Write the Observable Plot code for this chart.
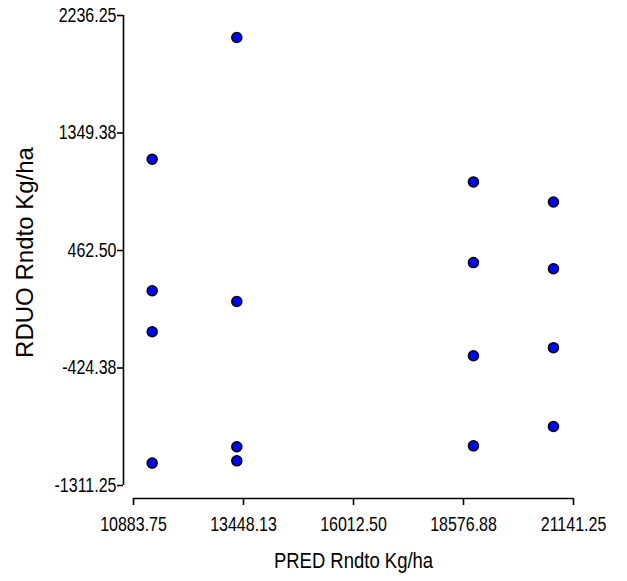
<!DOCTYPE html>
<html>
<head>
<meta charset="utf-8">
<script src="https://cdn.jsdelivr.net/npm/d3@7"></script>
<script src="https://cdn.jsdelivr.net/npm/@observablehq/plot@0.6"></script>
<style>
  html, body { margin: 0; padding: 0; background: #fff; }
  #chart svg { display: block; }
</style>
</head>
<body>
<div id="chart"></div>
<script>
// Predicted yield (x) and residual (y) for each observation
const pred = [
  11319, 11319, 11319, 11319,
  13292, 13292, 13292, 13292,
  18809, 18809, 18809, 18809,
  20674, 20674, 20674, 20674
];
const resid = [
  1151, 159, -151, -1142,
  2070, 78, -1019, -1125,
  980, 371, -332, -1012,
  829, 325, -271, -866
];

const xTicks = [10883.75, 13448.125, 16012.5, 18576.875, 21141.25];
const xTickLabels = ["10883.75", "13448.13", "16012.50", "18576.88", "21141.25"];
const yTicks = [-1311.25, -424.375, 462.5, 1349.375, 2236.25];
const yTickLabels = ["-1311.25", "-424.38", "462.50", "1349.38", "2236.25"];

const xTitle = "PRED Rndto Kg/ha";
const yTitle = "RDUO Rndto Kg/ha";

const data = pred.map((p, i) => ({pred: p, resid: resid[i]}));

const sans = "'Liberation Sans', Arial, sans-serif";

const chart = Plot.plot({
  width: 627,
  height: 581,
  marginLeft: 133,
  marginRight: 54,
  marginTop: 15,
  marginBottom: 96,
  style: {fontFamily: sans, fontSize: "20px", color: "#000", background: "#fff"},
  x: {domain: [xTicks[0], xTicks[xTicks.length - 1]]},
  y: {domain: [yTicks[0], yTicks[yTicks.length - 1]]},
  marks: [
    Plot.ruleX([xTicks[0]], {dx: -10, stroke: "#000", strokeWidth: 1.6}),
    Plot.ruleY([yTicks[0]], {dy: 13, stroke: "#000", strokeWidth: 1.6}),
    Plot.axisY({
      ticks: yTicks,
      tickFormat: d => yTickLabels[yTicks.indexOf(d)],
      dx: -10, tickSize: 6, tickPadding: 1,
      fontSize: 20, stroke: "#000", strokeWidth: 1.6, label: null
    }),
    Plot.axisX({
      ticks: xTicks,
      tickFormat: d => xTickLabels[xTicks.indexOf(d)],
      dy: 13, tickSize: 7, tickPadding: 11,
      fontSize: 20, stroke: "#000", strokeWidth: 1.6, label: null
    }),
    Plot.dot(data, {x: "pred", y: "resid", r: 5, fill: "#0000ff", stroke: "#000", strokeWidth: 1.5}),
    Plot.text([xTitle], {frameAnchor: "bottom", textAnchor: "middle", lineAnchor: "middle", dy: 75,
      fontSize: 22, fontFamily: sans, fill: "#000"}),
    Plot.text([yTitle], {frameAnchor: "left", textAnchor: "middle", lineAnchor: "middle", dx: -108, dy: 2,
      rotate: -90, fontSize: 24, fontFamily: sans, fill: "#000"})
  ]
});

document.getElementById("chart").appendChild(chart);

// The reference renders horizontal labels in a condensed face; squeeze them horizontally.
function squeeze(texts, factor) {
  texts.forEach(t => {
    const len = t.getComputedTextLength();
    if (len > 0) {
      t.setAttribute("textLength", (len * factor).toFixed(2));
      t.setAttribute("lengthAdjust", "spacingAndGlyphs");
    }
  });
}
const allTexts = Array.from(chart.querySelectorAll("text"));
squeeze(allTexts.filter(t => xTickLabels.includes(t.textContent) || yTickLabels.includes(t.textContent)), 0.8);
squeeze(allTexts.filter(t => t.textContent === xTitle), 0.84);
</script>
</body>
</html>
